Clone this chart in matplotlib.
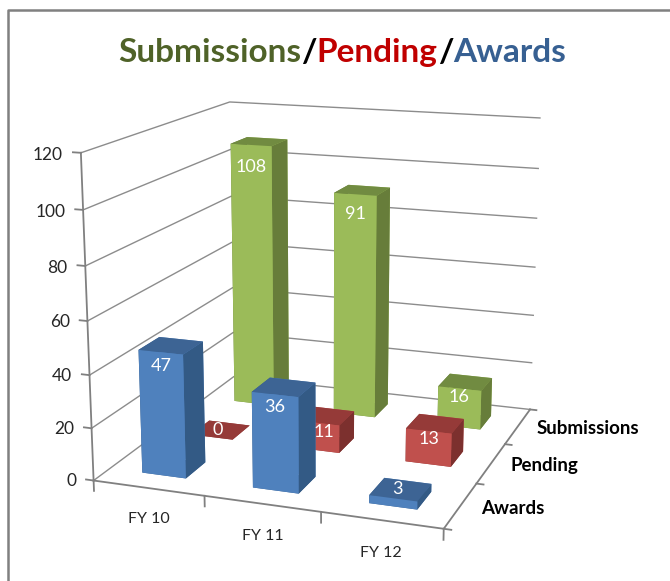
## Submissions/Pending/Awards 3D column chart
import matplotlib
matplotlib.use('Agg')
import matplotlib.pyplot as plt
from matplotlib.lines import Line2D
from mpl_toolkits.mplot3d import proj3d

plt.rcParams['font.family'] = ['Lato', 'DejaVu Sans']

W, H = 670, 581

# Data
years = ['FY 10', 'FY 11', 'FY 12']
series = ['Awards', 'Pending', 'Submissions']
awards = [47, 36, 3]
pending = [0, 11, 13]
submissions = [108, 91, 16]
z_ticks = [0, 20, 40, 60, 80, 100, 120]

# Face colours: front, top, side
blue = ['#4f81bd', '#3d6494', '#335a85']
red = ['#c0504d', '#953a38', '#7c302e']
green = ['#9bbb59', '#718b41', '#677d3a']
grid = '#8c8c8c'
axis = '#808080'
text = '#262626'

fig = plt.figure(figsize=(W/100, H/100), dpi=100)
# camera and box fitted to the corners of the reference
ax = fig.add_axes([32.5/W, (H-585.1)/H, 570/W, 570/H], projection='3d')
ax.set_xlim(0, 3)
ax.set_ylim(0, 3)
ax.set_zlim(0, 120)
ax.view_init(14.765, -70.351)
ax.set_proj_type('persp', focal_length=0.5265)
ax.set_box_aspect((1, 0.9981, 0.9139))
ax.set_axis_off()
ax.computed_zorder = False
ax.patch.set_alpha(0)

# Text anchored at a 3D point, kept as a plain 2D text
def label(x, y, z, s, **kw):
    xs, ys, _ = proj3d.proj_transform(x, y, z, ax.get_proj())
    return ax.text2D(xs, ys, s, transform=ax.transData, va='center', zorder=50, **kw)

# Walls and floor
for v in z_ticks:
    ax.plot([0, 0, 3], [0, 3, 3], [v, v, v], color=grid, lw=1, zorder=1)
ax.plot([0, 0], [0, 0], [0, 120], color=axis, lw=1.3, zorder=1)
ax.plot([0, 3, 3], [0, 0, 3], [0, 0, 0], color=axis, lw=1.3, zorder=1)

# Ticks
for v in z_ticks:
    ax.plot([-0.07, 0], [0, 0], [v, v], color=axis, lw=1.3, zorder=1)
    label(-0.16, 0, v-1.2, str(v), ha='right', fontsize=12.5, color=text)
for i in range(4):
    ax.plot([i, i], [0, 0], [0, -4], color=axis, lw=1.3, zorder=1)
for j in range(4):
    ax.plot([3, 3.06], [j, j], [0, 0], color=axis, lw=1.3, zorder=1)
for i, name in enumerate(years):
    label(i+0.5, 0, -12, name, ha='center', fontsize=11.5, color=text)
for j, name in enumerate(series):
    label(3.17, j+0.5, 0, name, ha='left', fontsize=13.5, fontweight='bold', color='black')

# Bars, back row first
rows = [(2, submissions, green), (1, pending, red), (0, awards, blue)]
gap = 0.3
depth = 1 - 2*gap
order = 2
for j, values, cols in rows:
    front, top, side = cols
    for i, v in enumerate(values):
        ax.bar3d(i+gap, j+gap, 0, depth, depth, v, shade=False, zorder=order,
                 color=[top, top, front, front, side, side], edgecolor='none')
        order += 1
        if v < 5:
            label(i+0.47, j+0.5, v, str(v), ha='center', fontsize=13, color='white')
        else:
            # the FY 11 pending label sits right of centre, clear of the blue bar
            lx = i + 0.5 + (0.06 if (i, j) == (1, 1) else 0)
            label(lx, j+gap, v*0.94-2.5, str(v), ha='center', fontsize=13, color='white')

# Frame of the chart area
fig.add_artist(Line2D([8/W, 8/W, 1], [0, 1-10/H, 1-10/H], color='#808080', lw=1.8))

# Title in coloured pieces
pieces = [('Submissions', '#4f6228'), ('/', 'black'), ('Pending', '#c00000'),
          ('/', 'black'), ('Awards', '#376092')]
fig.canvas.draw()
r = fig.canvas.get_renderer()
x = 118
for s, c in pieces:
    t = fig.text(x/W, 1-62/H, s, color=c, fontsize=24, fontweight='bold', va='baseline')
    x += t.get_window_extent(r).width

fig.savefig('out.png', dpi=100)
